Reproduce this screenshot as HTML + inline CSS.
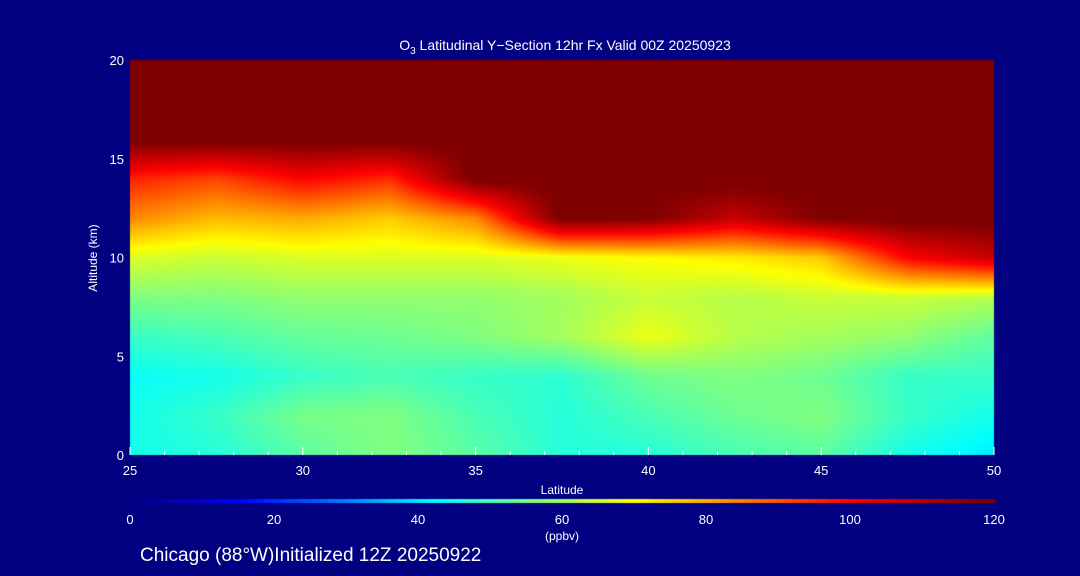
<!DOCTYPE html>
<html><head><meta charset="utf-8">
<style>
html,body{margin:0;padding:0;background:#000080;}
#wrap{position:relative;width:1080px;height:576px;background:#000080;overflow:hidden;font-family:"Liberation Sans",sans-serif;}
canvas,svg{position:absolute;left:0;top:0;}
</style></head>
<body>
<div id="wrap">
<canvas id="field" width="1080" height="576"></canvas>
<svg id="ov" width="1080" height="576">
<text x="565" y="50" fill="#fff" font-size="14" text-anchor="middle">O<tspan font-size="10" dy="4">3</tspan><tspan dy="-4"> Latitudinal Y−Section 12hr  Fx Valid 00Z 20250923</tspan></text>
<text x="97" y="258" fill="#fff" font-size="12" text-anchor="middle" transform="rotate(-90 97 258)">Altitude (km)</text>
<text x="562" y="494" fill="#fff" font-size="12" text-anchor="middle">Latitude</text>
<text x="562" y="540" fill="#fff" font-size="12" text-anchor="middle">(ppbv)</text>
<text x="140" y="561" fill="#fff" font-size="19">Chicago (88°W)Initialized 12Z 20250922</text>
<g id="axes"></g>
</svg>
</div>
<script>
const lats=[25,27.5,30,32.5,35,37.5,40,42.5,45,47.5,50];
const alts=[0,2,4,6,8,10,12,14,16,18,20];
const row0=[44,46,52,56,52,46,46,50,52,44,40];
const row2=[44,48,55,56,50,46,50,54,56,48,44];
const row4=[43,44,48,50,48,47,54,56,54,48,48];
const row6=[48,50,53,54,56,60,68,62,60,58,52];
const row8=[56,56,58,58,58,60,64,62,64,64,62];
const row10=[66,64,66,66,66,68,70,72,76,100,108];
const row12=[84,78,80,76,84,120,118,108,118,120,120];
const row14=[96,92,100,95,120,120,120,120,120,120,120];
const row16=[120,120,120,120,120,120,120,120,120,120,120];
const row18=[120,120,120,120,120,120,120,120,120,120,120];
const row20=[120,120,120,120,120,120,120,120,120,120,120];
const grid=[row0,row2,row4,row6,row8,row10,row12,row14,row16,row18,row20];
const xTicks=[25,30,35,40,45,50];
const yTicks=[0,5,10,15,20];
const cbTicks=[0,20,40,60,80,100,120];

const X0=130,X1=994,Y0=455,Y1=60;
const xs=v=>X0+(v-25)/(50-25)*(X1-X0);
const ys=v=>Y0-(v-0)/20*(Y0-Y1);
const stops=[[0,[0,0,128]],[15,[0,0,255]],[30,[0,128,255]],[42,[0,255,255]],[56,[128,255,128]],[70,[255,255,0]],[85,[255,128,0]],[100,[255,0,0]],[118,[128,0,0]],[120,[128,0,0]]];
function cmap(v){v=Math.max(0,Math.min(120,v));for(let i=0;i<stops.length-1;i++){const a=stops[i],b=stops[i+1];if(v<=b[0]){const t=(v-a[0])/(b[0]-a[0]);return a[1].map((c,k)=>Math.round(c+(b[1][k]-c)*t));}}return stops[stops.length-1][1];}
function sample(lat,alt){
  let i=Math.min(lats.length-2,Math.max(0,Math.floor((lat-25)/2.5)));
  let j=Math.min(alts.length-2,Math.max(0,Math.floor(alt/2)));
  const tx=(lat-lats[i])/2.5,ty=(alt-alts[j])/2;
  const a=grid[j][i],b=grid[j][i+1],c=grid[j+1][i],d=grid[j+1][i+1];
  return a*(1-tx)*(1-ty)+b*tx*(1-ty)+c*(1-tx)*ty+d*tx*ty;
}
const ctx=document.getElementById('field').getContext('2d');
const img=ctx.createImageData(X1-X0,Y0-Y1);
for(let py=0;py<Y0-Y1;py++){const alt=20-py/(Y0-Y1)*20;for(let px=0;px<X1-X0;px++){const lat=25+px/(X1-X0)*25;const c=cmap(sample(lat,alt));const o=(py*(X1-X0)+px)*4;img.data[o]=c[0];img.data[o+1]=c[1];img.data[o+2]=c[2];img.data[o+3]=255;}}
ctx.putImageData(img,X0,Y1);
for(let px=0;px<=X1-X0;px++){const c=cmap(px/(X1-X0)*120);ctx.fillStyle=`rgb(${c[0]},${c[1]},${c[2]})`;ctx.fillRect(X0+px,499,1,4);}
const NS='http://www.w3.org/2000/svg';
const g=document.getElementById('axes');
function el(t,at){const e=document.createElementNS(NS,t);for(const k in at)e.setAttribute(k,at[k]);g.appendChild(e);return e;}
xTicks.forEach(v=>{
  const t=el('text',{x:xs(v),y:475,fill:'#fff','font-size':13,'text-anchor':'middle'});t.textContent=v;
  
  
  const l=el('line',{x1:xs(v),x2:xs(v),y1:Y0,y2:Y0-8,stroke:'#fff'});
  
  
});
for(let v=25;v<=50;v++){const l=el('line',{x1:xs(v),x2:xs(v),y1:Y0,y2:Y0-4,stroke:'#fff'});
  
  }
yTicks.forEach(v=>{
  const t=el('text',{x:124,y:ys(v)+5,fill:'#fff','font-size':13,'text-anchor':'end'});t.textContent=v;
  
  
});
cbTicks.forEach(v=>{
  const t=el('text',{x:X0+v/120*(X1-X0),y:524,fill:'#fff','font-size':13,'text-anchor':'middle'});t.textContent=v;
  
  
});
</script>
</body></html>
